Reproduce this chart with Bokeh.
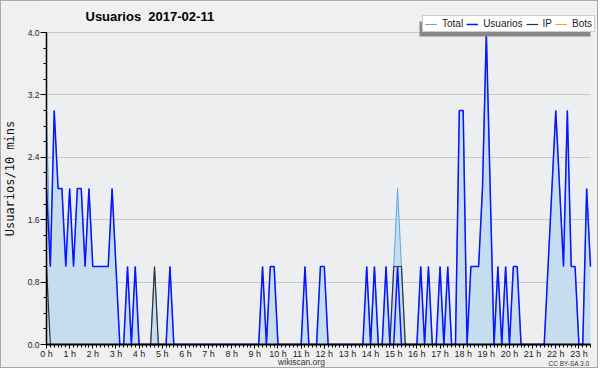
import math
from bokeh.plotting import figure
from bokeh.models import (Range1d, FixedTicker, PrintfTickFormatter, Legend, LegendItem,
                          Label, BoxAnnotation, ColumnDataSource)
from bokeh.embed import file_html
from bokeh.resources import INLINE

# 10-minute bins, 00:00 .. 23:30 (one row per hour)
usuarios = [
    2, 1, 3, 2, 2, 1,   # 0 h
    2, 1, 2, 2, 1, 2,   # 1 h
    1, 1, 1, 1, 1, 2,   # 2 h
    1, 0, 0, 1, 0, 1,   # 3 h
    0, 0, 0, 0, 0, 0,   # 4 h
    0, 0, 1, 0, 0, 0,   # 5 h
    0, 0, 0, 0, 0, 0,   # 6 h
    0, 0, 0, 0, 0, 0,   # 7 h
    0, 0, 0, 0, 0, 0,   # 8 h
    0, 0, 1, 0, 1, 1,   # 9 h
    0, 0, 0, 0, 0, 0,   # 10 h
    0, 1, 0, 0, 0, 1,   # 11 h
    1, 0, 0, 0, 0, 0,   # 12 h
    0, 0, 0, 0, 0, 1,   # 13 h
    0, 1, 0, 0, 1, 0,   # 14 h
    0, 1, 0, 0, 0, 0,   # 15 h
    0, 1, 0, 1, 0, 0,   # 16 h
    1, 0, 1, 0, 0, 3,   # 17 h
    3, 0, 1, 1, 1, 2,   # 18 h
    4, 2, 0, 1, 0, 1,   # 19 h
    0, 1, 1, 0, 0, 0,   # 20 h
    0, 0, 0, 0, 1, 2,   # 21 h
    3, 2, 1, 3, 1, 1,   # 22 h
    0, 0, 2, 1,         # 23 h
]

ip = [
    1, 0, 0, 0, 0, 0,   # 0 h
    0, 0, 0, 0, 0, 0,   # 1 h
    0, 0, 0, 0, 0, 0,   # 2 h
    0, 0, 0, 0, 0, 0,   # 3 h
    0, 0, 0, 0, 1, 0,   # 4 h
    0, 0, 0, 0, 0, 0,   # 5 h
    0, 0, 0, 0, 0, 0,   # 6 h
    0, 0, 0, 0, 0, 0,   # 7 h
    0, 0, 0, 0, 0, 0,   # 8 h
    0, 0, 0, 0, 0, 0,   # 9 h
    0, 0, 0, 0, 0, 0,   # 10 h
    0, 0, 0, 0, 0, 0,   # 11 h
    0, 0, 0, 0, 0, 0,   # 12 h
    0, 0, 0, 0, 0, 0,   # 13 h
    0, 0, 0, 0, 0, 0,   # 14 h
    1, 1, 1, 0, 0, 0,   # 15 h
    0, 0, 0, 0, 0, 0,   # 16 h
    0, 0, 0, 0, 0, 0,   # 17 h
    0, 0, 0, 0, 0, 0,   # 18 h
    0, 0, 0, 0, 0, 0,   # 19 h
    0, 0, 0, 0, 0, 0,   # 20 h
    0, 0, 0, 0, 0, 0,   # 21 h
    0, 0, 0, 0, 0, 0,   # 22 h
    0, 0, 0, 0,         # 23 h
]

total = [
    3, 1, 3, 2, 2, 1,   # 0 h
    2, 1, 2, 2, 1, 2,   # 1 h
    1, 1, 1, 1, 1, 2,   # 2 h
    1, 0, 0, 1, 0, 1,   # 3 h
    0, 0, 0, 0, 1, 0,   # 4 h
    0, 0, 1, 0, 0, 0,   # 5 h
    0, 0, 0, 0, 0, 0,   # 6 h
    0, 0, 0, 0, 0, 0,   # 7 h
    0, 0, 0, 0, 0, 0,   # 8 h
    0, 0, 1, 0, 1, 1,   # 9 h
    0, 0, 0, 0, 0, 0,   # 10 h
    0, 1, 0, 0, 0, 1,   # 11 h
    1, 0, 0, 0, 0, 0,   # 12 h
    0, 0, 0, 0, 0, 1,   # 13 h
    0, 1, 0, 0, 1, 0,   # 14 h
    1, 2, 1, 0, 0, 0,   # 15 h
    0, 1, 0, 1, 0, 0,   # 16 h
    1, 0, 1, 0, 0, 3,   # 17 h
    3, 0, 1, 1, 1, 2,   # 18 h
    4, 2, 0, 1, 0, 1,   # 19 h
    0, 1, 1, 0, 0, 0,   # 20 h
    0, 0, 0, 0, 1, 2,   # 21 h
    3, 2, 1, 3, 1, 1,   # 22 h
    0, 0, 2, 1,         # 23 h
]

bots = [0] * len(usuarios)

# time of each 10-minute bin, in hours
horas = [i / 6 for i in range(len(usuarios))]

y_ticks = [0.0, 0.8, 1.6, 2.4, 3.2, 4.0]
y_minor = [0.0, 0.2, 0.4, 0.6, 0.8, 1.0, 1.2, 1.4, 1.6, 1.8, 2.0,
           2.2, 2.4, 2.6, 2.8, 3.0, 3.2, 3.4, 3.6, 3.8, 4.0]
hour_ticks = list(range(24))

title_text = "Usuarios  2017-02-11"
y_label_text = "Usuarios/10 mins"
site_text = "wikiscan.org"
license_text = "CC BY-SA 3.0"

# ---- layout: the frame fills the canvas; axes sit at fixed data locations ----
W, H = 598, 368
PX_LEFT, PX_RIGHT = 45, 589      # canvas x of data x=0 and x=end
PX_BOTTOM, PX_TOP = 343, 31      # canvas y of data y=0 and y=4
x_end = horas[-1]
y_top = 4.0
px_per_x = (PX_RIGHT - PX_LEFT) / x_end
px_per_y = (PX_BOTTOM - PX_TOP) / y_top
x_range = Range1d(-PX_LEFT / px_per_x, x_end + (W - PX_RIGHT) / px_per_x)
y_range = Range1d(-(H - PX_BOTTOM) / px_per_y, y_top + PX_TOP / px_per_y)

OUTER = "#f0f0f0"
INNER = "#edeef0"

src = ColumnDataSource(dict(x=horas, total=total, usuarios=usuarios, ip=ip, bots=bots,
                            zero=[0] * len(usuarios)))

p = figure(width=W, height=H, output_backend="svg", toolbar_location=None,
           title=None, x_range=x_range, y_range=y_range,
           min_border_left=0, min_border_right=0, min_border_top=0, min_border_bottom=0)
p.background_fill_color = OUTER
p.border_fill_color = OUTER
p.outline_line_color = None
p.styles = {"border": "1px solid #a8a8a8"}

# plot-area background
p.add_layout(BoxAnnotation(left=0, right=x_end, bottom=0, top=y_top, level="image",
                           fill_color=INNER, fill_alpha=1, line_color=None))

# grid
p.xgrid.visible = False
p.ygrid.ticker = FixedTicker(ticks=y_ticks)
p.ygrid.grid_line_color = "#c8c8c8"
p.ygrid.level = "underlay"
# hide grid outside plot area
p.add_layout(BoxAnnotation(right=0, level="underlay", fill_color=OUTER, fill_alpha=1,
                           line_color=None))
p.add_layout(BoxAnnotation(left=x_end + 0.01, level="underlay", fill_color=OUTER,
                           fill_alpha=1, line_color=None))

# data
p.varea(x="x", y1="zero", y2="total", source=src, fill_color="#c6ddf0")
r_total = p.line("x", "total", source=src, line_color="#55aaee", line_width=1)
r_usu = p.line("x", "usuarios", source=src, line_color="#0a14ff", line_width=1.5)
r_ip = p.line("x", "ip", source=src, line_color="#333333", line_width=1.2)
r_bots = p.line("x", "bots", source=src, line_color="#ffa500", line_width=1)

# axes
xa, ya = p.xaxis[0], p.yaxis[0]
xa.fixed_location = 0
ya.fixed_location = 0
xa.bounds = (0, x_end)
ya.bounds = (0, y_top)
xa.ticker = FixedTicker(ticks=hour_ticks, minor_ticks=horas)
xa.formatter = PrintfTickFormatter(format="%d h")
ya.ticker = FixedTicker(ticks=y_ticks, minor_ticks=y_minor)
ya.formatter = PrintfTickFormatter(format="%.1f")
for ax in (xa, ya):
    ax.axis_line_color = "black"
    ax.major_tick_line_color = "black"
    ax.minor_tick_line_color = "black"
    ax.major_label_text_font = "Liberation Sans"
    ax.major_label_text_color = "#222222"
xa.axis_line_width = 2
ya.axis_line_width = 1.5
xa.major_tick_in = 0
xa.major_tick_out = 4
xa.minor_tick_in = 0
xa.minor_tick_out = 3
xa.major_label_standoff = 0
xa.major_label_text_font_size = "9px"
ya.major_tick_in = 0
ya.major_tick_out = 6
ya.minor_tick_in = 0
ya.minor_tick_out = 3
ya.major_label_standoff = 1
ya.major_label_text_font_size = "8.5px"

# texts (screen units measured from the canvas bottom-left)
p.add_layout(Label(x=84, y=H - 15, x_units="screen", y_units="screen",
                   text=title_text.replace("  ", "\u00a0 "),
                   text_font="Liberation Sans", text_font_style="bold", text_font_size="13px",
                   text_baseline="middle", text_color="black"))
p.add_layout(Label(x=8, y=H - 177, x_units="screen", y_units="screen", text=y_label_text,
                   angle=math.pi / 2, text_align="center", text_baseline="middle",
                   text_font="DejaVu Sans Mono", text_font_size="12px", text_color="#111111"))
p.add_layout(Label(x=300, y=H - 360, x_units="screen", y_units="screen", text=site_text,
                   text_align="center", text_baseline="middle",
                   text_font="Liberation Sans", text_font_size="8.5px", text_color="#333333"))
p.add_layout(Label(x=588, y=H - 361.5, x_units="screen", y_units="screen", text=license_text,
                   text_align="right", text_baseline="middle",
                   text_font="Liberation Sans", text_font_size="6.5px", text_color="#333333"))

# legend shadow + legend
p.add_layout(BoxAnnotation(left=418, right=589, top=H - 20, bottom=H - 35,
                           left_units="screen", right_units="screen",
                           top_units="screen", bottom_units="screen",
                           fill_color="#888888", fill_alpha=1, line_color=None))
legend = Legend(items=[LegendItem(label="Total", renderers=[r_total]),
                       LegendItem(label="Usuarios", renderers=[r_usu]),
                       LegendItem(label="IP", renderers=[r_ip]),
                       LegendItem(label="Bots", renderers=[r_bots])],
                orientation="horizontal", location=(421, H - 31),
                background_fill_color="white", background_fill_alpha=1,
                border_line_color="#999999", border_line_width=1,
                label_text_font="Liberation Sans", label_text_font_size="10px",
                label_text_color="#222222",
                glyph_width=12, glyph_height=10, label_height=10, label_width=0,
                label_standoff=5, spacing=3, padding=2, margin=0)
p.add_layout(legend)

open("out.html", "w").write(file_html(p, INLINE))
